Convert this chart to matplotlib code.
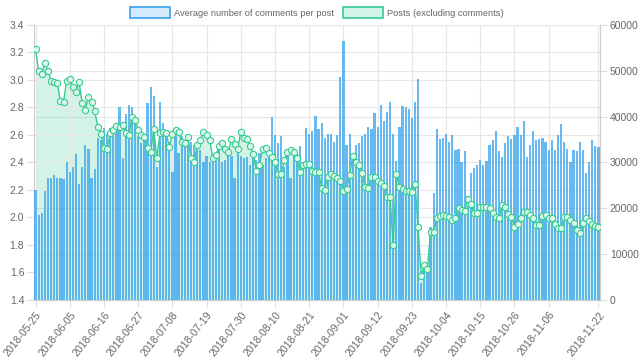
import datetime as dt
import matplotlib
matplotlib.use("Agg")
import matplotlib.pyplot as plt
from matplotlib.patches import Patch

plt.rcParams['font.family'] = ['Liberation Sans', 'DejaVu Sans']

start = dt.date(2018, 5, 25)
n_days = 182
dates = [(start + dt.timedelta(days=k)).isoformat() for k in range(n_days)]

avg_comments = [
    2.20, 2.02, 2.03, 2.19, 2.29, 2.29, 2.31, 2.29, 2.29, 2.28,
    2.40, 2.33, 2.37, 2.46, 2.24, 2.37, 2.53, 2.50, 2.29, 2.35,
    2.58, 2.56, 2.65, 2.61, 2.65, 2.64, 2.67, 2.80, 2.43, 2.75,
    2.82, 2.80, 2.71, 2.59, 2.54, 2.56, 2.83, 2.95, 2.88, 2.37,
    2.84, 2.69, 2.61, 2.55, 2.33, 2.60, 2.47, 2.59, 2.56, 2.56,
    2.55, 2.53, 2.51, 2.49, 2.40, 2.45, 2.40, 2.41, 2.41, 2.53,
    2.40, 2.42, 2.49, 2.45, 2.29, 2.49, 2.45, 2.43, 2.44, 2.38,
    2.45, 2.42, 2.47, 2.38, 2.43, 2.48, 2.73, 2.60, 2.54, 2.59,
    2.37, 2.49, 2.29, 2.45, 2.47, 2.52, 2.37, 2.65, 2.61, 2.63,
    2.74, 2.64, 2.69, 2.58, 2.61, 2.61, 2.55, 2.60, 3.02, 3.28,
    2.53, 2.61, 2.42, 2.53, 2.54, 2.59, 2.61, 2.66, 2.64, 2.76,
    2.66, 2.82, 2.70, 2.77, 2.84, 2.61, 2.41, 2.66, 2.81, 2.80,
    2.79, 2.72, 2.84, 3.01, 1.52, 1.66, 1.64, 1.93, 2.18, 2.64,
    2.57, 2.58, 2.61, 2.55, 2.60, 2.49, 2.50, 2.40, 2.48, 2.08,
    2.32, 2.36, 2.38, 2.42, 2.38, 2.41, 2.53, 2.56, 2.63, 2.48,
    2.44, 2.54, 2.59, 2.57, 2.60, 2.66, 2.60, 2.70, 2.44, 2.53,
    2.63, 2.56, 2.57, 2.58, 2.55, 2.49, 2.56, 2.49, 2.60, 2.68,
    2.55, 2.50, 2.40, 2.49, 2.48, 2.55, 2.49, 2.32, 2.40, 2.56,
    2.52, 2.51,
]

posts = [
    54770, 49970, 49310, 51650, 49970, 47860, 47500, 47280, 43420, 43270,
    47860, 48220, 46540, 45450, 47500, 42920, 41460, 44370, 43270, 41240,
    37820, 36150, 33100, 32950, 36370, 37090, 38040, 37680, 38190, 36370,
    36000, 40000, 39280, 37090, 36000, 35640, 33100, 32230, 37240, 30920,
    36370, 36730, 36370, 33450, 36220, 37090, 36590, 34540, 34190, 35500,
    30920, 30050, 33820, 34910, 36730, 36000, 34910, 30920, 31640, 33600,
    34190, 32950, 32370, 35060, 33970, 32950, 36730, 35280, 35060, 33600,
    31860, 28220, 29460, 32880, 33100, 32010, 31140, 30180, 27490, 27490,
    30550, 32370, 32730, 32370, 30920, 28000, 29460, 29680, 29680, 28150,
    28000, 28000, 24510, 24000, 26900, 27420, 27130, 26690, 26030, 23780,
    24220, 27280, 31490, 30180, 29460, 27780, 24580, 24510, 26900, 26770,
    25960, 25460, 24940, 22540, 22400, 12000, 27420, 24730, 24220, 23780,
    23780, 23600, 25300, 15900, 5200, 7600, 6700, 14770, 14770, 17820,
    18400, 18550, 18400, 18040, 17460, 17820, 20000, 19640, 19420, 22040,
    20870, 18910, 18910, 20220, 20360, 20360, 20000, 18910, 18040, 17820,
    20730, 20220, 18690, 18180, 16000, 16510, 17820, 19270, 19270, 18550,
    17820, 16360, 16360, 18330, 18550, 17820, 17820, 16510, 15780, 15780,
    18040, 18040, 17460, 16730, 15270, 14550, 16870, 17820, 17310, 16500,
    16150, 16000,
]

tick_idx = list(range(0, 166, 11)) + [181]
tick_labels = [dates[k] for k in tick_idx]
left_ticks = [1.4, 1.6, 1.8, 2.0, 2.2, 2.4, 2.6, 2.8, 3.0, 3.2, 3.4]
right_ticks = [0, 10000, 20000, 30000, 40000, 50000, 60000]

label_bar = "Average number of comments per post"
label_line = "Posts (excluding comments)"

blue = (54/255, 162/255, 235/255)
blue_fill = (54/255, 162/255, 235/255, 0.22)
green = (0.22, 0.80, 0.58)
green_fill = (0.22, 0.80, 0.58, 0.22)
grid_c = '#e6e6e6'
text_c = '#666666'
fs = 7.5

fig = plt.figure(figsize=(6.4, 3.61), dpi=100)
ax = fig.add_axes([34/640, 1 - 300/361, (600 - 34)/640, (300 - 25)/361])
ax2 = ax.twinx()
ax3 = ax.twinx()

x = list(range(n_days))

# fill under posts (behind bars)
ax2.fill_between(x, 0, posts, color=green_fill, linewidth=0, zorder=1)
ax2.set_ylim(0, 60000)
ax2.set_yticks(right_ticks)
ax2.set_yticklabels([str(v) for v in right_ticks])
for yv in right_ticks:
    ax2.axhline(yv, color=grid_c, linewidth=0.8, zorder=0)

# bars
ax.bar(x, avg_comments, width=0.72, bottom=0, color=blue, alpha=0.75,
       linewidth=0, zorder=3)
ax.set_ylim(1.4, 3.4)
ax.set_yticks(left_ticks)
ax.set_yticklabels([f"{v:.1f}" for v in left_ticks])
ax.set_xlim(-0.5, n_days - 0.5)
ax.set_xticks(tick_idx)
ax.set_xticklabels(tick_labels, rotation=52, ha='right', rotation_mode='anchor')
ax.grid(True, color=grid_c, linewidth=0.8, zorder=0)
ax.set_axisbelow(True)

# line on top
ax3.plot(x, posts, color=green, linewidth=1.0, marker='o', markersize=4.5,
         markerfacecolor=(0.87, 0.97, 0.93), markeredgecolor=green,
         markeredgewidth=0.8, zorder=5)
ax3.set_ylim(0, 60000)
ax3.axis('off')

ax.set_zorder(2)
ax.patch.set_visible(False)
ax2.set_zorder(1)
ax3.set_zorder(3)

for a in (ax, ax2):
    for s in a.spines.values():
        s.set_color('#cfcfcf')
        s.set_linewidth(0.8)
    a.tick_params(colors=text_c, labelsize=fs, length=5, width=0.8, pad=2,
                  color='#dddddd', labelcolor=text_c)
ax.spines['top'].set_visible(False)
ax2.spines['top'].set_visible(False)

handles = [Patch(facecolor=blue_fill, edgecolor=blue, linewidth=1.2, label=label_bar),
           Patch(facecolor=green_fill, edgecolor=green, linewidth=1.2, label=label_line)]
fig.legend(handles=handles, loc='upper center', bbox_to_anchor=(0.495, 1.0),
           ncol=2, frameon=False, fontsize=6.7, labelcolor=text_c,
           handlelength=4.3, handleheight=1.3, handletextpad=0.5,
           columnspacing=0.9, borderaxespad=0.4)

fig.savefig('out.png', dpi=100)
